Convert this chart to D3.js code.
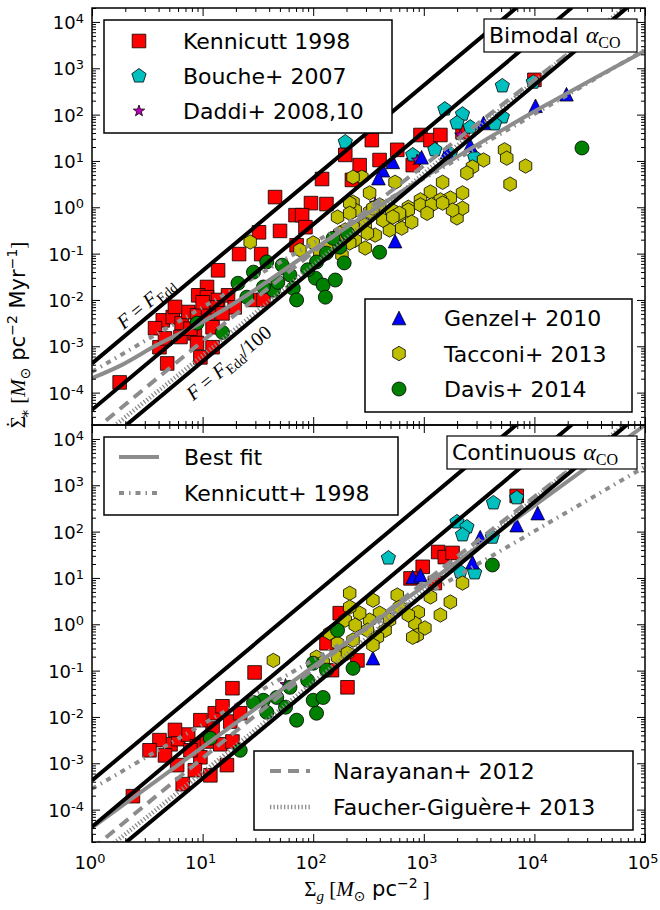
<!DOCTYPE html>
<html>
<head>
<meta charset="utf-8">
<script src="https://cdn.jsdelivr.net/npm/d3@7"></script>
<style>
  body { margin: 0; background: #fff; }
  text { font-family: "DejaVu Sans", sans-serif; fill: #000; }
  .math { font-family: "Liberation Serif", "DejaVu Serif", serif; }
</style>
</head>
<body>
<svg id="chart" width="660" height="910"></svg>
<script>
// all points are [log10 Sigma_g, log10 SigmaDot_*]

// top panel (bimodal alpha_CO)
const kennicuttTop = [[1.655,0.22],[2.08,0.61],[1.98,0.09],[2.12,0.07],[2.35,0.59],[1.84,-0.17],[1.90,-0.17],
  [1.51,-0.54],[1.70,-0.51],[1.93,-0.43],[1.85,-0.82],[1.33,-1.01],[1.53,-1.01],[1.14,-1.36],[1.04,-1.72],
  [0.96,-1.90],[1.04,-1.94],[1.14,-2.0],[1.23,-1.90],[1.29,-2.16],[1.46,-2.0],[1.55,-2.0],[0.64,-2.44],
  [0.73,-2.37],[0.81,-2.50],[0.87,-2.26],[0.95,-2.33],[1.05,-2.29],[0.57,-2.61],[0.61,-3.02],[0.68,-3.37],
  [0.93,-2.72],[1.09,-2.59],[0.95,-2.93],[1.09,-3.02],[0.98,-3.24],[0.80,-2.80],[0.25,-3.78],[1.13,-2.16],
  [1.18,-2.29],[2.97,1.56],[3.06,1.45],[3.15,1.56],[2.90,0.91],[2.76,1.24],[2.60,1.02],[4.0,2.75],[3.35,1.62],
  [2.29,1.13],[2.42,0.91],[2.53,1.45],[0.66,-2.83],[0.89,-2.62],[0.75,-2.15],[1.00,-2.05]];
const boucheTop = [[2.29,1.41],[3.71,2.62],[3.19,2.12],[3.35,2.01],[3.30,1.82],[3.42,1.73],[3.71,1.95],
  [3.64,1.80],[3.99,2.70],[2.90,1.13],[3.10,1.24],[3.24,1.15],[3.46,1.08]];
const daddiTop = [[2.56,0.09],[1.74,-1.36],[2.94,1.02],[3.33,1.56]];
const genzelTop = [[4.01,2.19],[4.29,2.44],[3.54,1.82],[3.42,1.34],[2.98,1.08],[2.72,0.98],[2.63,0.80],
  [2.59,0.63],[2.74,-0.73],[3.21,1.19]];
const tacconiTop = [[3.73,1.24],[3.75,1.06],[3.92,0.89],[3.78,0.50],[3.54,1.02],[3.44,0.87],[3.39,0.74],
  [3.17,0.54],[3.35,0.31],[3.06,0.33],[2.97,0.16],[2.86,0.0],[2.74,0.54],[2.51,0.31],[2.44,0.65],[3.24,0.20],
  [3.15,0.16],[3.30,-0.23],[3.35,-0.02],[2.69,-0.49],[2.80,-0.45],[2.86,-0.06],[2.97,0.05],[3.07,0.05],
  [2.63,-0.28],[2.36,0.65],[2.36,0.11],[2.38,-0.06],[1.43,-0.75],[2.33,0.09],[2.22,-0.21],[2.33,-0.13],
  [2.0,-0.77],[2.06,-0.97],[2.60,0.05],[2.71,-0.06],[2.78,-0.17],[2.51,-0.10],[2.47,-0.38],[2.29,-0.49],
  [2.56,-0.60],[2.89,-0.32],[2.15,-0.82],[2.38,-0.71],[2.47,-0.88],[2.26,-1.03],[1.88,-0.92],[2.36,-0.43],
  [2.24,-0.56],[2.33,-0.77],[2.78,-0.13],[3.03,-0.13],[3.26,-0.06],[2.49,-0.56],[2.54,-0.02],[3.17,0.09],
  [2.72,-0.21]];
const davisTop = [[4.43,1.28],[2.60,-0.97],[1.58,-1.18],[1.72,-1.25],[1.79,-1.46],[1.32,-1.64],[1.40,-1.94],
  [1.64,-1.79],[1.68,-1.62],[1.82,-1.75],[1.85,-2.0],[2.02,-1.53],[2.09,-1.68],[2.20,-1.57],[2.11,-1.94],
  [2.03,-1.18],[2.12,-0.99],[2.24,-0.86],[2.18,-0.67],[2.31,-0.56],[0.95,-2.50],[1.18,-2.70],[1.46,-1.40],
  [1.55,-1.72],[1.95,-1.35],[2.28,-1.20]];

// bottom panel (continuous alpha_CO)
const kennicuttBot = [[3.84,2.77],[3.13,1.56],[3.19,1.45],[3.26,1.54],[2.99,1.24],[2.88,0.99],[3.10,0.89],
  [2.24,0.24],[1.47,-1.04],[1.27,-1.38],[2.31,-1.36],[2.40,-0.78],[2.12,-0.41],[2.17,-0.99],[0.71,-2.59],
  [0.78,-2.48],[0.87,-2.38],[0.95,-2.63],[1.04,-2.53],[1.11,-1.92],[1.18,-1.77],[1.25,-2.10],[1.34,-1.92],
  [1.09,-2.25],[0.77,-3.04],[0.82,-3.45],[1.07,-3.26],[1.22,-3.04],[0.98,-2.87],[0.37,-3.71],[1.16,-2.59],
  [1.27,-2.53],[0.66,-2.83],[0.89,-2.72],[0.93,-3.15],[0.75,-2.28],[0.61,-2.50],[0.52,-2.72],[0.98,-2.07]];
const boucheBot = [[3.63,2.62],[3.84,2.73],[3.30,2.21],[3.39,2.10],[3.35,1.93],[3.62,1.88],[2.68,1.43],
  [3.33,1.13],[3.46,1.11]];
const daddiBot = [[2.50,0.10],[1.75,-1.30]];
const genzelBot = [[4.03,2.40],[3.84,2.14],[3.44,1.34],[2.90,1.02],[2.97,1.06],[3.51,1.88],[2.54,-0.73]];
const tacconiBot = [[3.35,0.89],[3.24,0.48],[2.76,0.63],[2.54,0.52],[2.95,0.26],[2.92,0.02],[2.94,-0.24],
  [2.86,0.20],[2.60,0.24],[2.69,0.09],[2.51,0.09],[2.65,-0.13],[2.33,0.67],[1.64,-0.78],[2.15,-0.19],
  [2.24,-0.50],[2.03,-0.71],[2.09,-0.82],[2.22,-0.71],[2.42,0.24],[2.78,0.37],[2.49,-0.13],[2.58,-0.28],
  [2.90,-0.28],[2.54,-0.45],[2.36,-0.34],[2.31,-0.62],[2.33,0.37],[2.29,0.09],[2.38,-0.02],[2.22,-0.41],
  [3.06,0.59],[3.15,0.20],[3.01,-0.08]];
const davisBot = [[3.62,1.28],[2.22,-0.13],[1.55,-1.64],[1.67,-1.58],[1.75,-1.79],[1.85,-2.07],[1.79,-1.36],
  [1.46,-1.69],[1.58,-1.90],[2.0,-1.64],[2.09,-1.58],[2.03,-1.92],[1.95,-1.21],[2.0,-0.84],[2.12,-0.99],
  [1.07,-2.46],[1.34,-2.72],[2.36,-0.95]];

// model lines, [log10 Sigma_g, log10 SigmaDot_*] along each line
const eddLine = [[0, -3.37], [3.84, 4.31]];
const edd10Line = [[0, -4.37], [4.34, 4.31]];
const edd100Line = [[0.31, -4.7], [4.84, 4.31]];
const bestFitTop = [[0, -3.69], [0.28, -3.39], [0.58, -2.98], [0.98, -2.50], [2.36, -0.34], [3.15, 0.87], [5, 3.38]];
const bestFitBot = [[0, -4.39], [5, 4.3]];
const kennicuttLaw = [[0, -3.55], [5, 3.4]];
const narayanan = [[0, -4.85], [1.18, -2.54], [4.35, 3.40], [5, 4.6]];
const faucher = [[0, -5.1], [1.0, -3.2], [4.35, 3.40], [5, 4.67]];

const majorExp = [0, 1, 2, 3, 4, 5];
const yMajorExp = [-4, -3, -2, -1, 0, 1, 2, 3, 4];

const svg = d3.select("#chart");
const W = 660, H = 910;
svg.append("rect").attr("width", W).attr("height", H).attr("fill", "#fff");

const left = 92, right = 645;
const panels = [
  { top: 8, bottom: 425, label: "Bimodal" },
  { top: 425, bottom: 842, label: "Continuous" }
];

const x = d3.scaleLog().domain([1, 1e5]).range([left, right]);

// marker shapes
function polygon(n) {
  return {
    draw(ctx, size) {
      const r = Math.sqrt(size);
      for (let i = 0; i < n; i++) {
        const a = -Math.PI / 2 + i * 2 * Math.PI / n;
        if (i) ctx.lineTo(r * Math.cos(a), r * Math.sin(a));
        else ctx.moveTo(r * Math.cos(a), r * Math.sin(a));
      }
      ctx.closePath();
    }
  };
}
const shapes = {
  square: { draw(ctx, size) { const r = Math.sqrt(size); ctx.rect(-r, -r, 2 * r, 2 * r); } },
  pentagon: polygon(5),
  hexagon: polygon(6),
  triangle: { draw(ctx, size) { const r = Math.sqrt(size); ctx.moveTo(0, -r); ctx.lineTo(r, r); ctx.lineTo(-r, r); ctx.closePath(); } },
  circle: { draw(ctx, size) { const r = Math.sqrt(size); ctx.moveTo(r, 0); ctx.arc(0, 0, r, 0, 2 * Math.PI); } },
  star: {
    draw(ctx, size) {
      const r = Math.sqrt(size);
      for (let i = 0; i < 10; i++) {
        const a = -Math.PI / 2 + i * Math.PI / 5, rr = i % 2 ? r * 0.4 : r;
        if (i) ctx.lineTo(rr * Math.cos(a), rr * Math.sin(a));
        else ctx.moveTo(rr * Math.cos(a), rr * Math.sin(a));
      }
      ctx.closePath();
    }
  }
};

const series = [
  { name: "Kennicutt 1998", top: kennicuttTop, bot: kennicuttBot, shape: "square", fill: "#ff0000", r: 6.8 },
  { name: "Bouche+ 2007", top: boucheTop, bot: boucheBot, shape: "pentagon", fill: "#00bfbf", r: 7.5 },
  { name: "Daddi+ 2008,10", top: daddiTop, bot: daddiBot, shape: "star", fill: "#bf00bf", r: 6 },
  { name: "Genzel+ 2010", top: genzelTop, bot: genzelBot, shape: "triangle", fill: "#0000ff", r: 6.8 },
  { name: "Tacconi+ 2013", top: tacconiTop, bot: tacconiBot, shape: "hexagon", fill: "#bfbf00", r: 7.2 },
  { name: "Davis+ 2014", top: davisTop, bot: davisBot, shape: "circle", fill: "#008000", r: 7 }
];

const gray = "#8c8c8c";
const lineStyles = {
  best: { w: 4, dash: null },
  kenn: { w: 4, dash: "5,5,1.5,5" },
  nara: { w: 4, dash: "11,7" },
  fg: { w: 4.5, dash: "1.3,2.2" }
};

function sym(shape, r) {
  return d3.symbol().type(shapes[shape]).size(r * r)();
}

function supText(sel, base, exp) {
  sel.text(base);
  sel.append("tspan").attr("dy", "-0.45em").attr("font-size", "0.72em").text(exp);
}

panels.forEach((p, pi) => {
  const y = d3.scaleLog().domain([2e-5, 2e4]).range([p.bottom, p.top]);
  const g = svg.append("g");

  g.append("clipPath").attr("id", "clip" + pi)
    .append("rect").attr("x", left).attr("y", p.top).attr("width", right - left).attr("height", p.bottom - p.top);

  const plot = g.append("g").attr("clip-path", `url(#clip${pi})`);

  // markers
  series.forEach(s => {
    const data = pi === 0 ? s.top : s.bot;
    plot.selectAll(null).data(data).join("path")
      .attr("d", sym(s.shape, s.r))
      .attr("transform", d => `translate(${x(10 ** d[0])},${y(10 ** d[1])})`)
      .attr("fill", s.fill)
      .attr("stroke", "#000")
      .attr("stroke-width", 0.8);
  });

  const line = d3.line().x(d => x(10 ** d[0])).y(d => y(10 ** d[1]));
  const curve = d3.line().x(d => x(10 ** d[0])).y(d => y(10 ** d[1])).curve(d3.curveMonotoneX);

  const grayLines = [
    { d: faucher, st: lineStyles.fg, smooth: true },
    { d: narayanan, st: lineStyles.nara, smooth: true },
    { d: kennicuttLaw, st: lineStyles.kenn },
    { d: pi === 0 ? bestFitTop : bestFitBot, st: lineStyles.best, smooth: true }
  ];
  grayLines.forEach(l => {
    plot.append("path")
      .attr("d", l.smooth ? curve(l.d) : line(l.d))
      .attr("fill", "none")
      .attr("stroke", gray)
      .attr("stroke-width", l.st.w)
      .attr("stroke-dasharray", l.st.dash);
  });

  [eddLine, edd10Line, edd100Line].forEach(d => {
    plot.append("path").attr("d", line(d)).attr("fill", "none")
      .attr("stroke", "#000").attr("stroke-width", 4);
  });

  // ticks, inward on all four sides
  const xMinor = [], yMinor = [];
  for (let e = 0; e < 5; e++) for (let m = 2; m <= 9; m++) xMinor.push(m * 10 ** e);
  for (let e = -5; e < 5; e++) for (let m = 2; m <= 9; m++) {
    const v = m * 10 ** e;
    if (v >= 2e-5 && v <= 2e4) yMinor.push(v);
  }
  const xMajor = majorExp.map(e => 10 ** e);
  const yMajor = yMajorExp.map(e => 10 ** e);

  const axes = [
    [d3.axisBottom(x).tickValues(xMajor).tickSize(-8), `translate(0,${p.bottom})`],
    [d3.axisBottom(x).tickValues(xMinor).tickSize(-4), `translate(0,${p.bottom})`],
    [d3.axisTop(x).tickValues(xMajor).tickSize(-8), `translate(0,${p.top})`],
    [d3.axisTop(x).tickValues(xMinor).tickSize(-4), `translate(0,${p.top})`],
    [d3.axisLeft(y).tickValues(yMajor).tickSize(-8), `translate(${left},0)`],
    [d3.axisLeft(y).tickValues(yMinor).tickSize(-4), `translate(${left},0)`],
    [d3.axisRight(y).tickValues(yMajor).tickSize(-8), `translate(${right},0)`],
    [d3.axisRight(y).tickValues(yMinor).tickSize(-4), `translate(${right},0)`]
  ];
  axes.forEach(([ax, tr]) => {
    const a = g.append("g").attr("transform", tr).call(ax.tickFormat(""));
    a.select(".domain").remove();
    a.selectAll("line").attr("stroke", "#000").attr("stroke-width", 1);
  });

  g.append("rect").attr("x", left).attr("y", p.top).attr("width", right - left).attr("height", p.bottom - p.top)
    .attr("fill", "none").attr("stroke", "#000").attr("stroke-width", 1.5);

  // y tick labels
  yMajorExp.forEach(e => {
    const t = g.append("text").attr("x", 84).attr("y", y(10 ** e) + 7)
      .attr("text-anchor", "end").attr("font-size", 18);
    supText(t, "10", e < 0 ? "-" + Math.abs(e) : String(e));
  });

  // annotation box
  const bx = pi === 0 ? 484 : 447;
  const ab = g.append("g");
  ab.append("rect").attr("x", bx).attr("y", p.top + 11).attr("width", 637 - bx).attr("height", 33)
    .attr("fill", "#fff").attr("stroke", "#000").attr("stroke-width", 1.2);
  const at = ab.append("text").attr("x", bx + 5).attr("y", p.top + 35).attr("font-size", 22);
  at.append("tspan").text(p.label + " ");
  at.append("tspan").attr("class", "math").attr("font-style", "italic").attr("font-size", 24).text("α");
  at.append("tspan").attr("class", "math").attr("font-size", 16).attr("dy", 5).text("CO");
});

// x tick labels (bottom panel only)
majorExp.forEach(e => {
  const t = svg.append("text").attr("x", x(10 ** e) - 2).attr("y", 869)
    .attr("text-anchor", "middle").attr("font-size", 18);
  supText(t, "10", String(e));
});

// rotated line labels in top panel
const yTop = d3.scaleLog().domain([2e-5, 2e4]).range([425, 8]);
const ang = Math.atan2(yTop(10 ** -1) - yTop(10 ** -3), x(10) - x(1)) * 180 / Math.PI;
function lineLabel(px, py, extra) {
  const t = svg.append("text").attr("class", "math").attr("font-size", 20)
    .attr("transform", `translate(${px},${py}) rotate(${ang})`).attr("text-anchor", "middle");
  t.append("tspan").attr("font-style", "italic").text("F");
  t.append("tspan").text(" = ");
  t.append("tspan").attr("font-style", "italic").text("F");
  t.append("tspan").attr("font-size", 14).attr("dy", 4).text("Edd");
  if (extra) t.append("tspan").attr("dy", -4).text(extra);
}
lineLabel(150, 308, null);
lineLabel(233, 368, "/100");

// legends
function legendBox(x0, y0, w, h) {
  svg.append("rect").attr("x", x0).attr("y", y0).attr("width", w).attr("height", h)
    .attr("fill", "#fff").attr("stroke", "#000").attr("stroke-width", 1.5);
}
legendBox(104, 20, 288, 113);
series.slice(0, 3).forEach((s, i) => {
  svg.append("path").attr("d", sym(s.shape, s.r)).attr("transform", `translate(139,${41 + i * 35})`)
    .attr("fill", s.fill).attr("stroke", "#000").attr("stroke-width", 0.8);
  svg.append("text").attr("x", 183).attr("y", 49 + i * 35).attr("font-size", 22).text(s.name);
});
legendBox(365, 299, 267, 113);
series.slice(3).forEach((s, i) => {
  svg.append("path").attr("d", sym(s.shape, s.r)).attr("transform", `translate(399,${318 + i * 35.5})`)
    .attr("fill", s.fill).attr("stroke", "#000").attr("stroke-width", 0.8);
  svg.append("text").attr("x", 444).attr("y", 326 + i * 35.5).attr("font-size", 22).text(s.name);
});

function lineLegend(x0, y0, w, h, entries, sx, tx) {
  legendBox(x0, y0, w, h);
  entries.forEach((en, i) => {
    const yy = y0 + 20 + i * 36;
    svg.append("line").attr("x1", sx).attr("x2", sx + 40).attr("y1", yy).attr("y2", yy)
      .attr("stroke", gray).attr("stroke-width", en.st.w).attr("stroke-dasharray", en.st.dash);
    svg.append("text").attr("x", tx).attr("y", yy + 8).attr("font-size", 22).text(en.name);
  });
}
lineLegend(104, 437, 294, 78, [
  { name: "Best fit", st: lineStyles.best },
  { name: "Kennicutt+ 1998", st: lineStyles.kenn }
], 119, 184);
lineLegend(254, 751, 379, 79, [
  { name: "Narayanan+ 2012", st: lineStyles.nara },
  { name: "Faucher-Giguère+ 2013", st: lineStyles.fg }
], 270, 333);

// axis labels
const xl = svg.append("text").attr("x", 367).attr("y", 896).attr("text-anchor", "middle").attr("font-size", 21);
xl.append("tspan").attr("class", "math").text("Σ");
xl.append("tspan").attr("class", "math").attr("font-style", "italic").attr("font-size", 15).attr("dy", 5).text("g");
xl.append("tspan").attr("class", "math").attr("dy", -5).text(" [");
xl.append("tspan").attr("class", "math").attr("font-style", "italic").text("M");
xl.append("tspan").attr("font-size", 14).attr("dy", 5).text("⊙");
xl.append("tspan").attr("dy", -5).text(" pc");
xl.append("tspan").attr("font-size", 14).attr("dy", -8).text("−2");
xl.append("tspan").attr("class", "math").attr("dy", 8).text(" ]");

const yl = svg.append("text").attr("transform", "translate(25,335) rotate(-90)")
  .attr("text-anchor", "middle").attr("font-size", 21);
yl.append("tspan").attr("class", "math").text("Σ");
yl.append("tspan").attr("class", "math").attr("dx", -12).attr("dy", -4).text("˙");
yl.append("tspan").attr("class", "math").attr("font-size", 15).attr("dx", 2).attr("dy", 9).text("∗");
yl.append("tspan").attr("class", "math").attr("dy", -5).text(" [");
yl.append("tspan").attr("class", "math").attr("font-style", "italic").text("M");
yl.append("tspan").attr("font-size", 14).attr("dy", 5).text("⊙");
yl.append("tspan").attr("dy", -5).text(" pc");
yl.append("tspan").attr("font-size", 14).attr("dy", -8).text("−2");
yl.append("tspan").attr("dy", 8).text(" Myr");
yl.append("tspan").attr("font-size", 14).attr("dy", -8).text("−1");
yl.append("tspan").attr("class", "math").attr("dy", 8).text("]");
</script>
</body>
</html>
